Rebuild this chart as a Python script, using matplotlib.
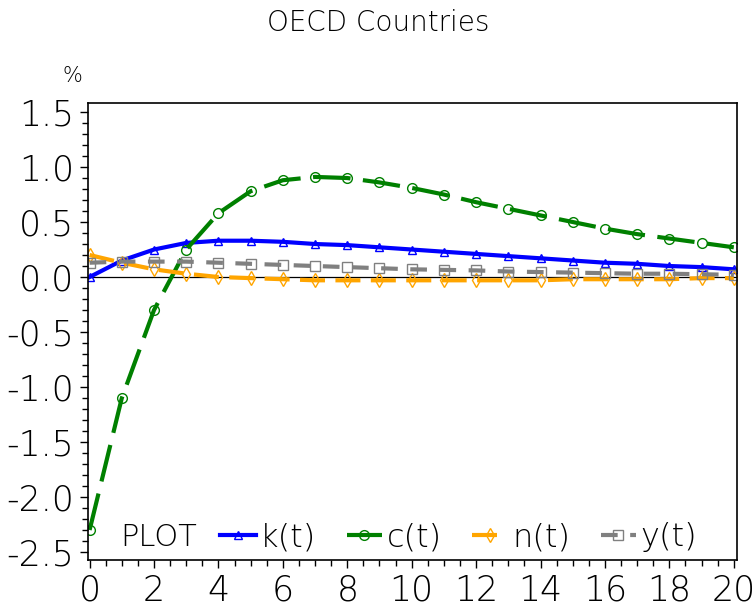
import numpy as np
import matplotlib.pyplot as plt
from matplotlib.ticker import MultipleLocator, FormatStrFormatter

# impulse responses, % deviation from steady state
t = np.arange(0, 21)
k = [0.00, 0.15, 0.25, 0.31, 0.33, 0.33, 0.32, 0.30, 0.29, 0.27, 0.25,
     0.23, 0.21, 0.19, 0.17, 0.15, 0.13, 0.12, 0.10, 0.09, 0.07]
c = [-2.30, -1.10, -0.30, 0.25, 0.58, 0.78, 0.88, 0.91, 0.90, 0.86, 0.81,
     0.75, 0.68, 0.62, 0.56, 0.50, 0.44, 0.39, 0.35, 0.31, 0.27]
n = [0.20, 0.13, 0.07, 0.03, 0.00, -0.01, -0.02, -0.03, -0.03, -0.03, -0.03,
     -0.03, -0.03, -0.03, -0.03, -0.02, -0.02, -0.02, -0.02, -0.01, -0.01]
y = [0.13, 0.14, 0.14, 0.14, 0.13, 0.12, 0.11, 0.10, 0.09, 0.08, 0.07,
     0.065, 0.06, 0.05, 0.045, 0.04, 0.035, 0.03, 0.03, 0.025, 0.02]

plt.rcParams['font.family'] = 'DejaVu Sans'
fw = 'light'

fig = plt.figure(figsize=(7.56, 6.15), dpi=100)
ax = fig.add_axes([0.1164, 0.0894, 0.8585, 0.7431])

ax.axhline(0, color='k', lw=0.9, zorder=1)

ax.plot(t, k, color='#0000FF', lw=3, marker='^', ms=6, mfc='none', mew=1,
        label='k(t)')
ax.plot(t, c, color='#008000', lw=3, marker='o', ms=7, mfc='none', mew=1,
        dashes=(9, 3), label='c(t)')
ax.plot(t, n, color='#FFA500', lw=3, marker='d', ms=7, mfc='none', mew=1,
        dashes=(6, 2.5), label='n(t)')
ax.plot(t, y, color='#808080', lw=3, marker='s', ms=7, mfc='none', mew=1,
        dashes=(4, 3), label='y(t)')

ax.set_xlim(-0.05, 20.1)
ax.set_ylim(-2.573, 1.582)
ax.xaxis.set_major_locator(MultipleLocator(2))
ax.xaxis.set_minor_locator(MultipleLocator(0.5))
ax.yaxis.set_major_locator(MultipleLocator(0.5))
ax.yaxis.set_minor_locator(MultipleLocator(0.1))
ax.yaxis.set_major_formatter(FormatStrFormatter('%.1f'))
ax.tick_params(which='major', length=6, width=1, labelsize=25, pad=4)
ax.tick_params(which='minor', length=4, width=1)
for lab in ax.get_xticklabels() + ax.get_yticklabels():
    lab.set_fontweight(fw)
for s in ax.spines.values():
    s.set_linewidth(1.2)

ax.text(0.05, 0.05, 'PLOT', transform=ax.transAxes, fontsize=22,
        fontweight=fw, va='center', ha='left')
leg = ax.legend(loc='center left', bbox_to_anchor=(0.204, 0.05), ncol=4,
                frameon=False, handlelength=1.1, handletextpad=0.15,
                columnspacing=0.95, borderaxespad=0, borderpad=0,
                prop={'size': 23, 'weight': fw})

fig.text(0.5, 0.963, 'OECD Countries', ha='center', va='center',
         fontsize=20, fontweight=fw)
fig.text(0.096, 0.877, '%', ha='center', va='center', fontsize=15,
         fontweight=fw)

fig.savefig('out.png', dpi=100)
